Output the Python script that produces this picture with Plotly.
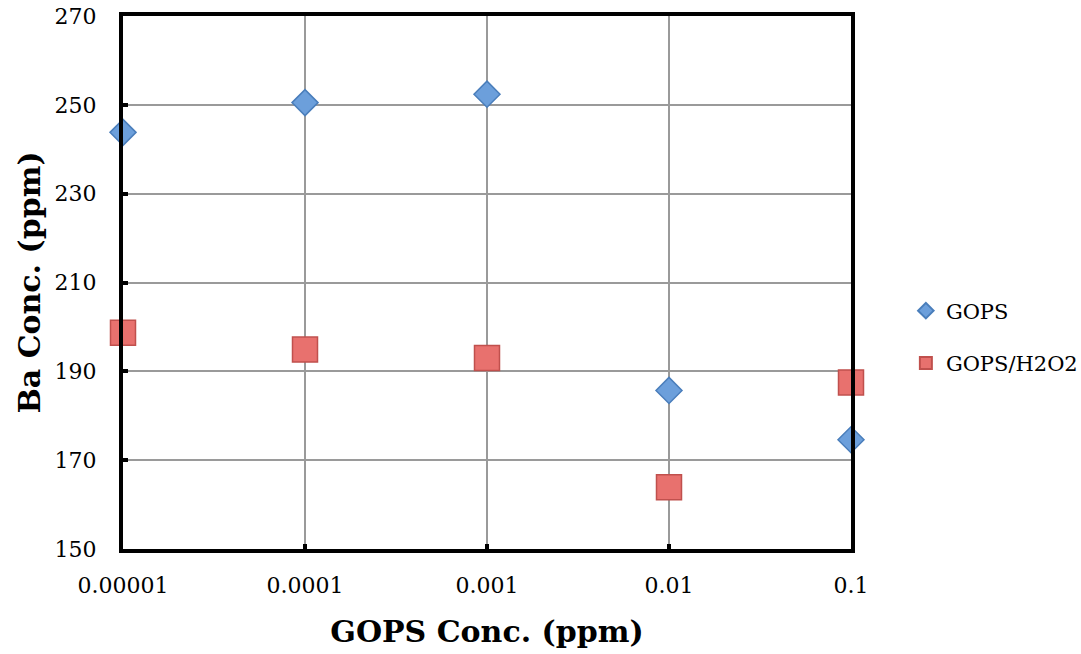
import plotly.graph_objects as go

x_vals = [0.00001, 0.0001, 0.001, 0.01, 0.1]
gops = [243.8, 250.5, 252.4, 185.7, 174.6]
gops_h2o2 = [198.7, 194.9, 193.0, 163.9, 187.5]
x_tick_labels = ["0.00001", "0.0001", "0.001", "0.01", "0.1"]
y_ticks = [150, 170, 190, 210, 230, 250, 270]

FONT = "DejaVu Serif"

fig = go.Figure()
fig.add_trace(go.Scatter(
    x=x_vals, y=gops, mode="markers", name="GOPS", legendgroup="a",
    marker=dict(symbol="diamond", size=20, color="#6c9fdb",
                line=dict(color="#4a7ebb", width=1.5)),
    cliponaxis=False,
))
fig.add_trace(go.Scatter(
    x=x_vals, y=gops_h2o2, mode="markers", name="GOPS/H2O2", legendgroup="b",
    marker=dict(symbol="square", size=25, color="#e8716e",
                line=dict(color="#c0504d", width=1.5)),
    cliponaxis=False,
))

axis_common = dict(
    showline=True, linecolor="black", linewidth=4, mirror=True,
    showgrid=True, gridcolor="#9a9a9a", gridwidth=1.5,
    ticks="inside", ticklen=5, tickwidth=4, tickcolor="black",
    zeroline=False,
    tickfont=dict(family=FONT, size=22, color="black"),
)

fig.update_xaxes(
    type="log", range=[-5.00001, -0.99999],
    tickvals=x_vals, ticktext=x_tick_labels,
    title=dict(text="<b>GOPS Conc. (ppm)</b>", font=dict(family=FONT, size=30, color="black"), standoff=25),
    ticklabelstandoff=14,
    **axis_common,
)
fig.update_yaxes(
    range=[150, 270], tickvals=y_ticks,
    title=dict(text="<b>Ba Conc. (ppm)</b>", font=dict(family=FONT, size=30, color="black"), standoff=6),
    ticklabelstandoff=18,
    **axis_common,
)

fig.update_layout(
    width=1081, height=654,
    margin=dict(l=123, r=230, t=16, b=105, autoexpand=False),
    plot_bgcolor="white", paper_bgcolor="white",
    showlegend=True,
    legend=dict(
        xref="container", yref="container",
        x=0.838, y=0.4847, xanchor="left", yanchor="middle",
        font=dict(family=FONT, size=21, color="black"),
        traceorder="grouped", tracegroupgap=22,
        itemsizing="constant", itemwidth=30,
    ),
)

fig.write_html("out.html")
